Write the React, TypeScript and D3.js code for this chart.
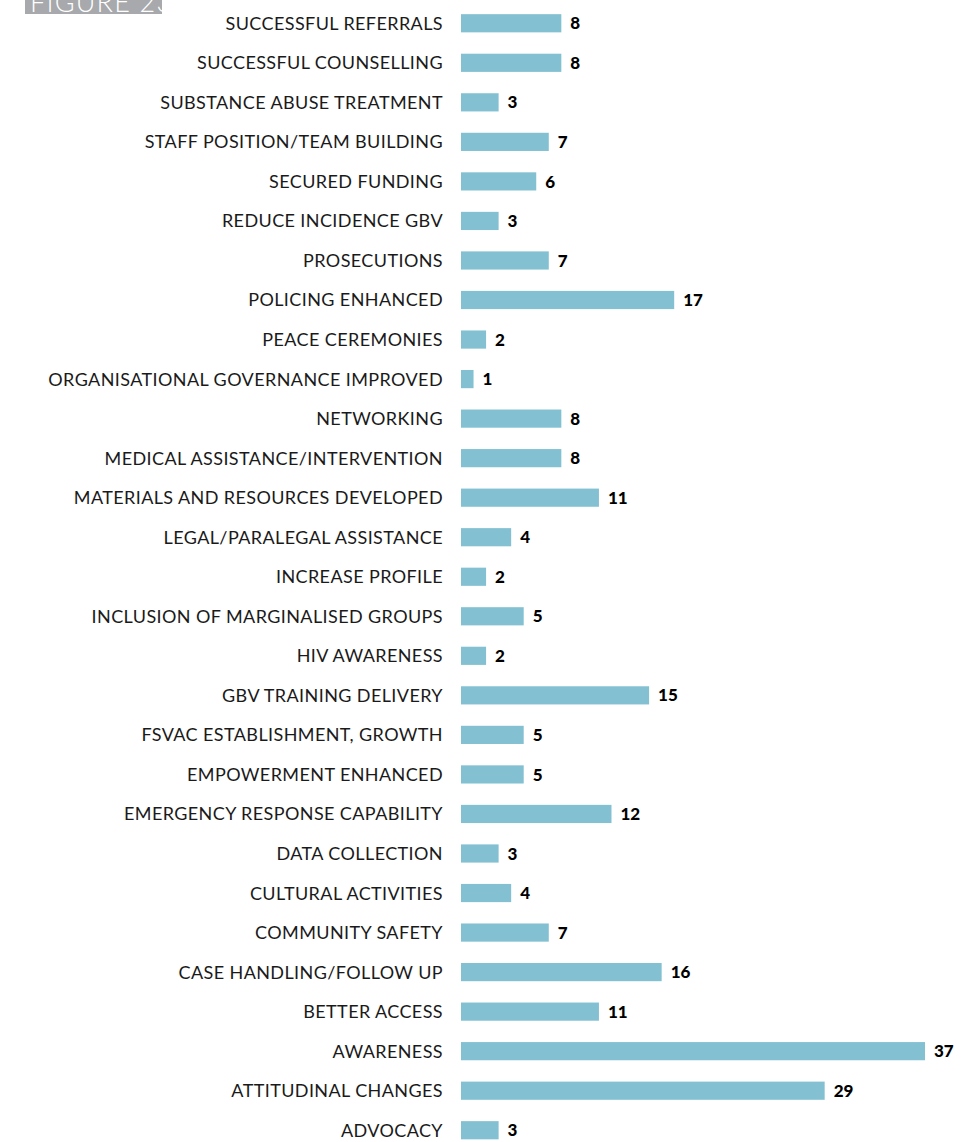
import React from 'react';
import * as d3 from 'd3';

const categories = [
  'SUCCESSFUL REFERRALS',
  'SUCCESSFUL COUNSELLING',
  'SUBSTANCE ABUSE TREATMENT',
  'STAFF POSITION/TEAM BUILDING',
  'SECURED FUNDING',
  'REDUCE INCIDENCE GBV',
  'PROSECUTIONS',
  'POLICING ENHANCED',
  'PEACE CEREMONIES',
  'ORGANISATIONAL GOVERNANCE IMPROVED',
  'NETWORKING',
  'MEDICAL ASSISTANCE/INTERVENTION',
  'MATERIALS AND RESOURCES DEVELOPED',
  'LEGAL/PARALEGAL ASSISTANCE',
  'INCREASE PROFILE',
  'INCLUSION OF MARGINALISED GROUPS',
  'HIV AWARENESS',
  'GBV TRAINING DELIVERY',
  'FSVAC ESTABLISHMENT, GROWTH',
  'EMPOWERMENT ENHANCED',
  'EMERGENCY RESPONSE CAPABILITY',
  'DATA COLLECTION',
  'CULTURAL ACTIVITIES',
  'COMMUNITY SAFETY',
  'CASE HANDLING/FOLLOW UP',
  'BETTER ACCESS',
  'AWARENESS',
  'ATTITUDINAL CHANGES',
  'ADVOCACY',
];

const values = [8, 8, 3, 7, 6, 3, 7, 17, 2, 1, 8, 8, 11, 4, 2, 5, 2, 15, 5, 5, 12, 3, 4, 7, 16, 11, 37, 29, 3];

const figureTitle = 'FIGURE 23.';

const width = 976;
const height = 1142;
const barLeft = 461;

export default function App() {
  // ~12.5px per unit
  const x = d3.scaleLinear().domain([0, 37]).range([barLeft, 925]);
  const y = d3
    .scaleBand()
    .domain(categories)
    .range([3.5, 1150])
    .paddingInner(0.54)
    .paddingOuter(0.27);

  const bh = y.bandwidth();

  return (
    <svg
      width={width}
      height={height}
      style={{ position: 'absolute', left: 0, top: 0, background: '#fff' }}
      fontFamily="Lato, 'Noto Sans', sans-serif"
    >
      <rect x={25} y={-10} width={137} height={24} fill="#a7a9ac" />
      <text x={30} y={12} fontSize={27} fontWeight={300} fill="#fff" letterSpacing={1.2}>
        {figureTitle}
      </text>
      {categories.map((c, i) => {
        const yy = y(c)!;
        const cy = yy + bh / 2;
        return (
          <g key={c}>
            <text
              x={443}
              y={cy}
              dy="0.36em"
              textAnchor="end"
              fontSize={18}
              letterSpacing={0.4}
              fill="#1a1a1a"
            >
              {c}
            </text>
            <rect x={x(0)} y={yy} width={x(values[i]) - x(0)} height={bh} fill="#83c1d2" />
            <text
              x={x(values[i]) + 9}
              y={cy}
              dy="0.36em"
              fontSize={17}
              fontWeight={900}
              fill="#000"
            >
              {values[i]}
            </text>
          </g>
        );
      })}
    </svg>
  );
}
